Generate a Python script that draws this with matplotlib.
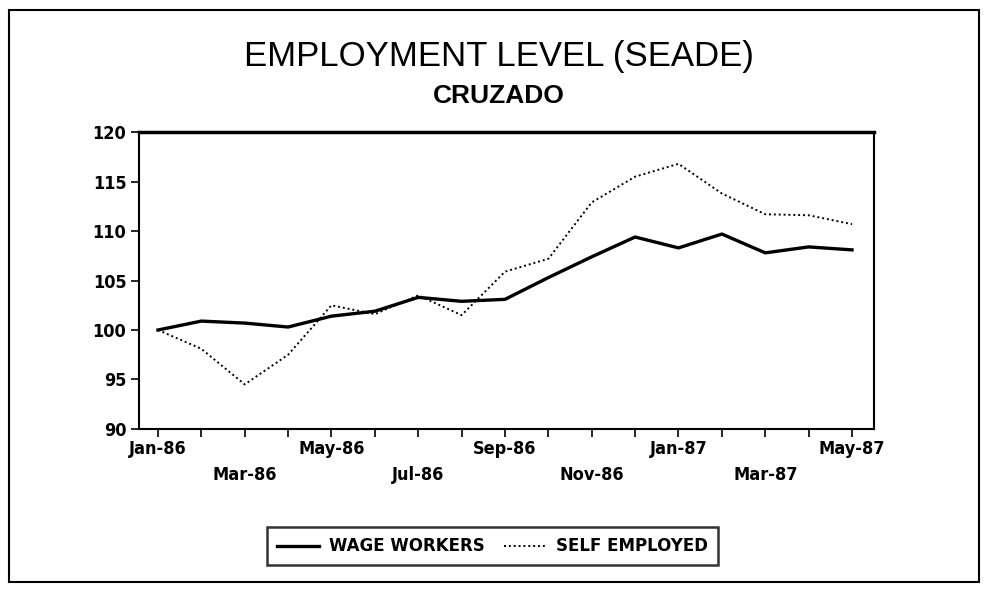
import matplotlib
matplotlib.use('Agg')
import matplotlib.pyplot as plt
from matplotlib.patches import Rectangle

# monthly index values, Jan-86 = 100
months = ['Jan-86', 'Feb-86', 'Mar-86', 'Apr-86', 'May-86', 'Jun-86', 'Jul-86', 'Aug-86',
          'Sep-86', 'Oct-86', 'Nov-86', 'Dec-86', 'Jan-87', 'Feb-87', 'Mar-87', 'Apr-87', 'May-87']
wage_workers = [100.0, 100.9, 100.7, 100.3, 101.4, 101.9, 103.3, 102.9, 103.1,
                105.3, 107.4, 109.4, 108.3, 109.7, 107.8, 108.4, 108.1]
self_employed = [100.0, 98.1, 94.5, 97.5, 102.5, 101.6, 103.5, 101.5, 105.9,
                 107.2, 112.9, 115.5, 116.8, 113.8, 111.7, 111.6, 110.7]
y_ticks = [90, 95, 100, 105, 110, 115, 120]

title = 'EMPLOYMENT LEVEL (SEADE)'
subtitle = 'CRUZADO'

plt.rcParams['font.family'] = ['Liberation Sans', 'DejaVu Sans']
tick_font = ['DejaVu Sans']

fig = plt.figure(figsize=(9.85, 5.9), dpi=100)
ax = fig.add_axes([0.141, 0.273, 0.746, 0.503])

x = list(range(len(months)))
l1, = ax.plot(x, wage_workers, color='black', lw=2.4, label='WAGE WORKERS')
l2, = ax.plot(x, self_employed, color='black', lw=1.4, ls=(0, (1, 1.5)), label='SELF EMPLOYED')

ax.set_xlim(-0.44, 16.5)
ax.set_ylim(90, 120)
ax.set_yticks(y_ticks)
ax.set_xticks(x)
# only every other month is labelled, alternating between two rows
labels = []
for i, m in enumerate(months):
    if i % 2 == 0:
        labels.append(m if i % 4 == 0 else '\n' + m)
    else:
        labels.append('')
ax.set_xticklabels(labels, fontfamily=tick_font, fontweight='bold', fontstretch='condensed',
                   fontsize=13, linespacing=1.6)
ax.set_yticklabels([str(v) for v in y_ticks], fontfamily=tick_font, fontweight='bold',
                   fontstretch='condensed', fontsize=13)
ax.tick_params(axis='both', direction='out', length=6, width=1.2, colors='black')
ax.tick_params(axis='x', pad=2)
ax.tick_params(axis='y', pad=3)

for side in ['left', 'bottom', 'right']:
    ax.spines[side].set_linewidth(1.5)
ax.spines['top'].set_linewidth(2.5)

fig.text(0.507, 0.905, title, ha='center', va='center', fontsize=25)
fig.text(0.506, 0.837, subtitle, ha='center', va='center', fontsize=19, fontweight='bold')

leg = fig.legend(handles=[l1, l2], loc='center', bbox_to_anchor=(0.5, 0.074), ncol=2,
                 frameon=True, fancybox=False, handlelength=2.5, columnspacing=1.2,
                 handletextpad=0.6, borderpad=0.6, borderaxespad=0,
                 prop={'family': 'DejaVu Sans', 'weight': 'bold', 'stretch': 'normal', 'size': 12})
leg.get_frame().set_edgecolor('black')
leg.get_frame().set_linewidth(1.8)

# outer frame around the whole chart
fig.patches.append(Rectangle((0.009, 0.014), 0.985, 0.969, transform=fig.transFigure,
                             fill=False, edgecolor='black', lw=1.5))

fig.savefig('out.png', dpi=100, facecolor='white')
